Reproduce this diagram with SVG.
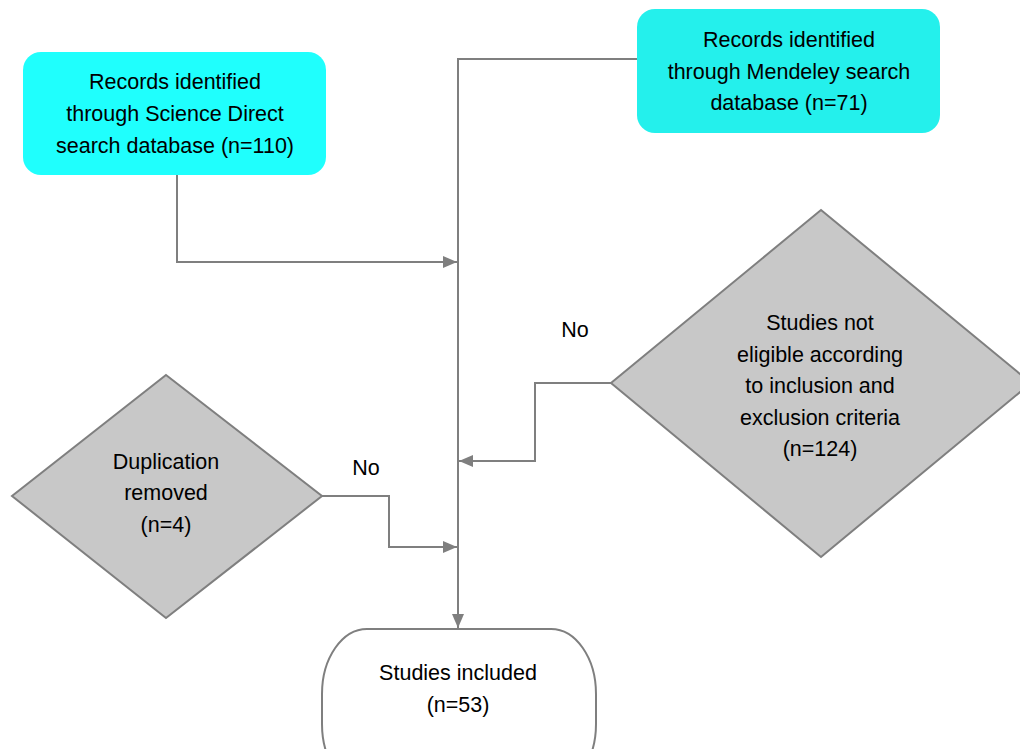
<svg xmlns="http://www.w3.org/2000/svg" width="1020" height="749" viewBox="0 0 1020 749">
<style>
.t{font-family:"Liberation Sans",Arial,sans-serif;font-size:21.5px;fill:#000;text-anchor:middle}
.c{fill:none;stroke:#7f7f7f;stroke-width:2}
.d{fill:#c8c8c8;stroke:#7f7f7f;stroke-width:2}
</style>
<defs>
<marker id="a" markerWidth="14" markerHeight="12" refX="14" refY="6" orient="auto" markerUnits="userSpaceOnUse">
<path d="M0,0 L14,6 L0,12 Z" fill="#7f7f7f"/>
</marker>
</defs>
<rect width="1020" height="749" fill="#fff"/>
<g id="connectors">
<path class="c" d="M637,59 H458 V628" marker-end="url(#a)"/>
<path class="c" d="M177,175 V262 H457" marker-end="url(#a)"/>
<path class="c" d="M611,383 H535 V461 H459" marker-end="url(#a)"/>
<path class="c" d="M322,496 H389 V547 H457" marker-end="url(#a)"/>
<text class="t" x="575" y="337">No</text>
<text class="t" x="366" y="475">No</text>
</g>
<g id="sciencedirect">
<rect x="23" y="52" width="303" height="123" rx="18" fill="#1ffffd"/>
<text class="t" x="175" y="89">Records identified</text>
<text class="t" x="175" y="121">through Science Direct</text>
<text class="t" x="175" y="153">search database (n=110)</text>
</g>
<g id="mendeley">
<rect x="637" y="9" width="303" height="124" rx="18" fill="#24f0ec"/>
<text class="t" x="789" y="47">Records identified</text>
<text class="t" x="789" y="79">through Mendeley search</text>
<text class="t" x="789" y="110">database (n=71)</text>
</g>
<g id="noteligible">
<polygon class="d" points="821,210 1031,383 821,557 611,383"/>
<text class="t" x="820" y="330">Studies not</text>
<text class="t" x="820" y="362">eligible according</text>
<text class="t" x="820" y="393">to inclusion and</text>
<text class="t" x="820" y="425">exclusion criteria</text>
<text class="t" x="820" y="456">(n=124)</text>
</g>
<g id="duplication">
<polygon class="d" points="166,375 322,496 166,618 12,496"/>
<text class="t" x="166" y="469">Duplication</text>
<text class="t" x="166" y="500">removed</text>
<text class="t" x="166" y="532">(n=4)</text>
</g>
<g id="included">
<rect x="322" y="629" width="274" height="160" rx="45" ry="65" fill="#fff" stroke="#7f7f7f" stroke-width="2"/>
<text class="t" x="458" y="680">Studies included</text>
<text class="t" x="458" y="712">(n=53)</text>
</g>
</svg>
